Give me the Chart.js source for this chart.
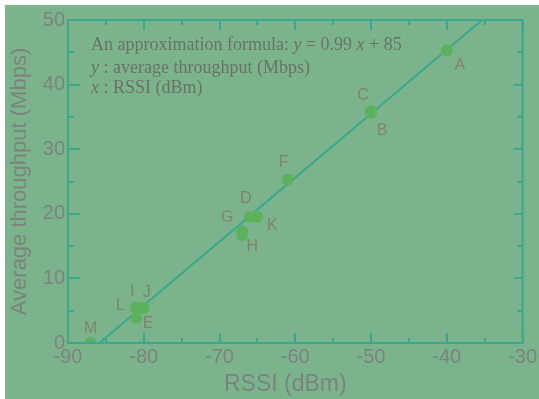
<!DOCTYPE html>
<html>
<head>
<meta charset="utf-8">
<script src="https://cdn.jsdelivr.net/npm/chart.js@4/dist/chart.umd.min.js"></script>
<style>
  html, body { margin: 0; padding: 0; background: #ffffff; }
  #wrap { position: absolute; left: 5px; top: 5px; width: 534px; height: 394px; background: #7bb48c; }
  canvas { display: block; }
</style>
</head>
<body>
<div id="wrap"><canvas id="c" width="534" height="394"></canvas></div>
<script>
// Measured sites: RSSI (dBm) vs average throughput (Mbps)
const siteNames = ['A', 'B', 'C', 'D', 'E', 'F', 'G', 'H', 'I', 'J', 'K', 'L', 'M'];
const rssi      = [-40, -50, -50, -66, -81, -61, -67, -67, -81, -80, -65, -81, -87];
const throughput= [45.3, 35.6, 35.9, 19.5, 3.9, 25.3, 17.3, 16.7, 5.5, 5.4, 19.5, 5.4, 0.0];

// Fitted line: y = 0.99 x + 85
const fitSlope = 0.99;
const fitIntercept = 85;
const yRange = [0, 50];
const xRange = [-90, -30];
const xTicks = [-90, -80, -70, -60, -50, -40, -30];
const yTicks = [0, 10, 20, 30, 40, 50];
const xTitle = 'RSSI (dBm)';
const yTitle = 'Average throughput (Mbps)';

// Where each site letter sits relative to its marker (px)
const labelOffsets = [
  [13, 15], [11, 18], [-8, -15], [-4, -18], [12, 6], [-4, -17],
  [-15, -14], [10, 11], [-4, -16], [3, -16], [15, 9], [-16, -3], [0, -14]
];

const TEAL = '#3aa88c';
const TEXT = '#7c837e';
const SANS = '"Liberation Sans", Arial, sans-serif';

const points = rssi.map((x, i) => ({ x, y: throughput[i] }));
const fitLine = yRange.map(y => ({ x: (y - fitIntercept) / fitSlope, y }));

// Inward major/minor ticks on all four sides of the frame
const frameTicks = {
  id: 'frameTicks',
  afterDraw(chart) {
    const { ctx, chartArea: a, scales: { x, y } } = chart;
    ctx.save();
    ctx.strokeStyle = TEAL;
    ctx.lineWidth = 2;
    ctx.beginPath();
    for (let v = xRange[0]; v <= xRange[1]; v += 5) {
      const px = Math.round(x.getPixelForValue(v));
      const len = (v % 10 === 0) ? 10 : 5;
      ctx.moveTo(px, a.bottom); ctx.lineTo(px, a.bottom - len);
      ctx.moveTo(px, a.top); ctx.lineTo(px, a.top + len);
    }
    for (let v = yRange[0]; v <= yRange[1]; v += 5) {
      const py = Math.round(y.getPixelForValue(v));
      const major = v % 10 === 0;
      ctx.moveTo(a.left, py); ctx.lineTo(a.left + (major ? 12 : 6), py);
      ctx.moveTo(a.right, py); ctx.lineTo(a.right - (major ? 9 : 5), py);
    }
    ctx.stroke();
    ctx.strokeRect(a.left, a.top, a.right - a.left, a.bottom - a.top);

    // x-axis title, set slightly left of the plot centre
    ctx.font = '23px ' + SANS;
    ctx.fillStyle = TEXT;
    ctx.textAlign = 'center';
    ctx.textBaseline = 'middle';
    ctx.fillText(xTitle, (a.left + a.right) / 2 - 10, chart.height - 14);
    ctx.restore();
  }
};

// Site letters next to each marker
const siteLabels = {
  id: 'siteLabels',
  afterDatasetsDraw(chart) {
    const meta = chart.getDatasetMeta(1);
    const { ctx } = chart;
    ctx.save();
    ctx.font = '16px ' + SANS;
    ctx.fillStyle = '#83826c';
    ctx.textAlign = 'center';
    ctx.textBaseline = 'middle';
    meta.data.forEach((el, i) => {
      const [dx, dy] = labelOffsets[i];
      ctx.fillText(siteNames[i], el.x + dx, el.y + dy);
    });
    ctx.restore();
  }
};

// Formula legend in the upper-left corner of the plot
const formulaNote = {
  id: 'formulaNote',
  afterDraw(chart) {
    const { ctx, chartArea: a } = chart;
    const rows = [
      [['An approximation formula: ', false], ['y', true], [' = ' + fitSlope.toFixed(2) + ' ', false], ['x', true], [' + ' + fitIntercept, false]],
      [['y', true], [' : average throughput (Mbps)', false]],
      [['x', true], [' : RSSI (dBm)', false]]
    ];
    const rowY = [25, 48, 68];
    ctx.save();
    ctx.fillStyle = '#6a7363';
    ctx.textBaseline = 'middle';
    rows.forEach((row, r) => {
      let px = a.left + 23;
      row.forEach(([t, it]) => {
        ctx.font = (it ? 'italic ' : '') + '18px "Liberation Serif", "Times New Roman", serif';
        ctx.fillText(t, px, a.top + rowY[r]);
        px += ctx.measureText(t).width;
      });
    });
    ctx.restore();
  }
};

new Chart(document.getElementById('c'), {
  type: 'scatter',
  data: {
    datasets: [
      {
        type: 'line',
        data: fitLine,
        borderColor: TEAL,
        borderWidth: 2,
        pointRadius: 0,
        fill: false,
        order: 2
      },
      {
        data: points,
        backgroundColor: '#5cb25c',
        borderWidth: 0,
        pointRadius: 6,
        pointHoverRadius: 6,
        order: 1
      }
    ]
  },
  options: {
    responsive: false,
    animation: false,
    events: [],
    layout: { padding: { top: 15, right: 16, left: 0, bottom: 0 } },
    plugins: { legend: { display: false }, tooltip: { enabled: false } },
    scales: {
      x: {
        type: 'linear',
        min: xRange[0], max: xRange[1],
        afterBuildTicks: s => { s.ticks = xTicks.map(v => ({ value: v })); },
        afterFit: s => { s.height = 56; },
        grid: { display: false, drawTicks: false },
        border: { display: false },
        ticks: { color: TEXT, padding: 2, font: { family: SANS, size: 20 } },
        title: { display: false }
      },
      y: {
        type: 'linear',
        min: yRange[0], max: yRange[1],
        afterBuildTicks: s => { s.ticks = yTicks.map(v => ({ value: v })); },
        afterFit: s => { s.width = 63; },
        grid: { display: false, drawTicks: false },
        border: { display: false },
        ticks: { color: TEXT, padding: 3, font: { family: SANS, size: 20 } },
        title: {
          display: true, text: yTitle, color: TEXT,
          padding: { top: 2, bottom: 0 },
          font: { family: SANS, size: 22 }
        }
      }
    }
  },
  plugins: [frameTicks, siteLabels, formulaNote]
});
</script>
</body>
</html>
